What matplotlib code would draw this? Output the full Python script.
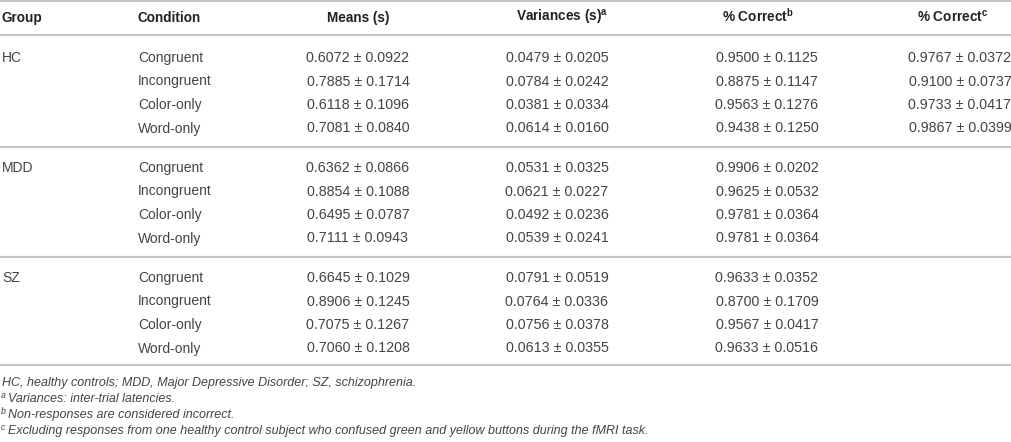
"""Table: reaction times and accuracy per group and condition"""

import matplotlib.pyplot as plt

# Table content
groups = ["HC", "MDD", "SZ"]
conditions = ["Congruent", "Incongruent", "Color-only", "Word-only"]

means = [
    ["0.6072 ± 0.0922", "0.7885 ± 0.1714", "0.6118 ± 0.1096", "0.7081 ± 0.0840"],
    ["0.6362 ± 0.0866", "0.8854 ± 0.1088", "0.6495 ± 0.0787", "0.7111 ± 0.0943"],
    ["0.6645 ± 0.1029", "0.8906 ± 0.1245", "0.7075 ± 0.1267", "0.7060 ± 0.1208"],
]
variances = [
    ["0.0479 ± 0.0205", "0.0784 ± 0.0242", "0.0381 ± 0.0334", "0.0614 ± 0.0160"],
    ["0.0531 ± 0.0325", "0.0621 ± 0.0227", "0.0492 ± 0.0236", "0.0539 ± 0.0241"],
    ["0.0791 ± 0.0519", "0.0764 ± 0.0336", "0.0756 ± 0.0378", "0.0613 ± 0.0355"],
]
correct_b = [
    ["0.9500 ± 0.1125", "0.8875 ± 0.1147", "0.9563 ± 0.1276", "0.9438 ± 0.1250"],
    ["0.9906 ± 0.0202", "0.9625 ± 0.0532", "0.9781 ± 0.0364", "0.9781 ± 0.0364"],
    ["0.9633 ± 0.0352", "0.8700 ± 0.1709", "0.9567 ± 0.0417", "0.9633 ± 0.0516"],
]
# only reported for HC
correct_c = [
    ["0.9767 ± 0.0372", "0.9100 ± 0.0737", "0.9733 ± 0.0417", "0.9867 ± 0.0399"],
    ["", "", "", ""],
    ["", "", "", ""],
]

headers = ["Group", "Condition", "Means (s)",
           r"Variances (s)$^{\mathregular{a}}$",
           r"% Correct$^{\mathregular{b}}$",
           r"% Correct$^{\mathregular{c}}$"]

footnote_marks = ["", "a", "b", "c"]
footnotes = [
    "HC, healthy controls; MDD, Major Depressive Disorder; SZ, schizophrenia.",
    "Variances: inter-trial latencies.",
    "Non-responses are considered incorrect.",
    "Excluding responses from one healthy control subject "
    "who confused green and yellow buttons during the fMRI task.",
]

# Layout (pixel coordinates, y grows downward)
plt.rcParams["font.family"] = ["Liberation Sans", "DejaVu Sans"]
text_color = "#444444"
line_color = "#c4c4c4"

fig = plt.figure(figsize=(10.12, 4.42), dpi=100)
ax = fig.add_axes([0, 0, 1, 1])
ax.set_xlim(0, 1012)
ax.set_ylim(442, 0)
ax.axis("off")

header_x = [2, 138, 358, 562, 758, 953]
header_ha = ["left", "left", "center", "center", "center", "center"]
value_x = [358, 557, 767, 960]

for hx, ha, h in zip(header_x, header_ha, headers):
    ax.text(hx, 22, h, ha=ha, va="baseline", fontsize=9.8,
            fontweight="bold", color="#222222")

for yl in [1, 35, 147, 257, 365]:
    ax.axhline(yl, color=line_color, linewidth=1.6)

group_top = [62, 172, 282]
row_step = 23.5
for g, group in enumerate(groups):
    y0 = group_top[g]
    ax.text(header_x[0], y0, group, ha="left", va="baseline",
            fontsize=10, color=text_color)
    for r, cond in enumerate(conditions):
        y = y0 + r * row_step
        ax.text(header_x[1], y, cond, ha="left", va="baseline",
                fontsize=10, color=text_color)
        cols = [means[g][r], variances[g][r], correct_b[g][r], correct_c[g][r]]
        for vx, val in zip(value_x, cols):
            if val:
                ax.text(vx, y, val, ha="center", va="baseline",
                        fontsize=10.3, color=text_color)

for i, (mark, note) in enumerate(zip(footnote_marks, footnotes)):
    yb = 386 + i * 16
    if mark:
        ax.text(1, yb - 4.5, mark, ha="left", va="baseline", fontsize=6.3,
                style="italic", color=text_color)
        tx = 8
    else:
        tx = 2
    ax.text(tx, yb, note, ha="left", va="baseline", fontsize=9.0,
            style="italic", color=text_color)

fig.savefig("out.png", dpi=100)
